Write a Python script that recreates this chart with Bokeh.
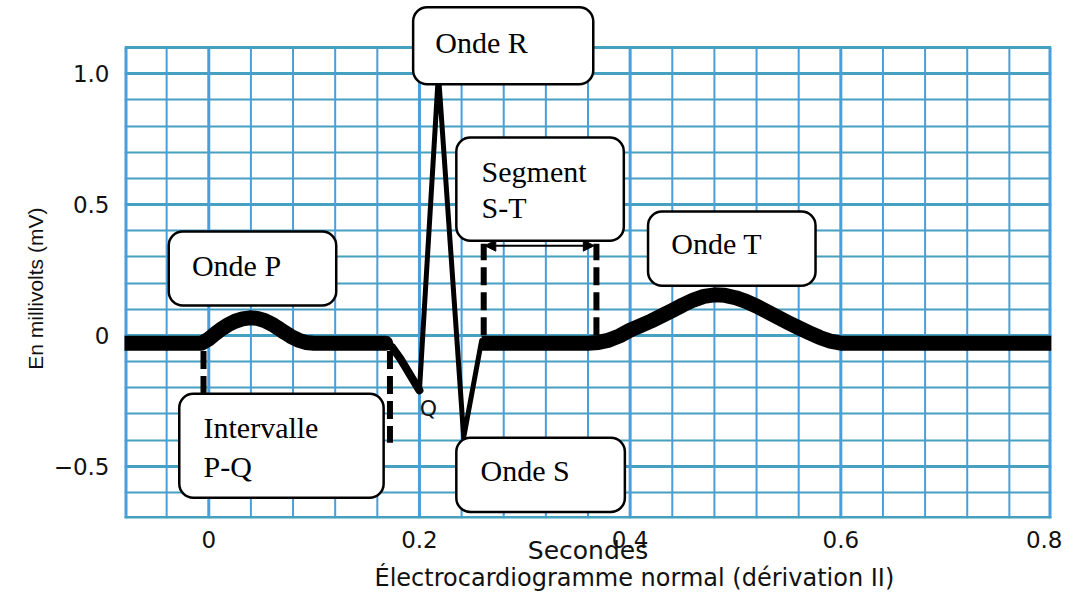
from bokeh.plotting import figure
from bokeh.models import Range1d, FixedTicker, BoxAnnotation, Label, Arrow, NormalHead, Title
from bokeh.embed import file_html
from bokeh.resources import INLINE

# ---------------- data ----------------
# ECG trace, seconds / millivolts
pq_t = [-0.08, -0.007, 0.0, 0.006, 0.012, 0.018, 0.025, 0.032, 0.039, 0.046, 0.052, 0.057, 0.062,
        0.067, 0.072, 0.078, 0.085, 0.092, 0.1, 0.168]
pq_v = [-0.03, -0.03, -0.014, 0.006, 0.024, 0.04, 0.054, 0.063, 0.067, 0.065, 0.058, 0.049, 0.038,
        0.025, 0.011, -0.004, -0.018, -0.027, -0.03, -0.03]

q_t = [0.166, 0.174, 0.182, 0.200]
q_v = [-0.03, -0.045, -0.09, -0.21]

rs_t = [0.200, 0.218, 0.242, 0.259]
rs_v = [-0.21, 1.0, -0.39, -0.02]

st_t = [0.259, 0.30, 0.36, 0.37, 0.38, 0.39, 0.40, 0.41, 0.42, 0.43, 0.44, 0.45, 0.46, 0.47, 0.48,
        0.49, 0.50, 0.51, 0.52, 0.53, 0.54, 0.55, 0.56, 0.57, 0.58, 0.59, 0.60, 0.70, 0.80]
st_v = [-0.03, -0.03, -0.03, -0.027, -0.018, -0.002, 0.02, 0.037, 0.055, 0.075, 0.095, 0.116, 0.135,
        0.149, 0.155, 0.153, 0.144, 0.13, 0.112, 0.091, 0.07, 0.049, 0.029, 0.01, -0.008, -0.022,
        -0.03, -0.03, -0.03]

# dashed markers
dash_x = [-0.005, 0.172, 0.261, 0.368]
dash_y0 = [-0.06, -0.06, 0.0, 0.0]
dash_y1 = [-0.25, -0.41, 0.35, 0.35]

# S-T arrow
arrow_x = [0.262, 0.366]
arrow_y = 0.343

# annotation boxes
box_names = ["Onde R", "Segment S-T", "Onde P", "Onde T", "Intervalle P-Q", "Onde S"]
box_left = [0.194, 0.235, -0.038, 0.417, -0.028, 0.235]
box_right = [0.365, 0.394, 0.121, 0.576, 0.166, 0.395]
box_top = [1.254, 0.756, 0.397, 0.473, -0.223, -0.391]
box_bottom = [0.960, 0.362, 0.114, 0.190, -0.621, -0.675]

text_lines = ["Onde R", "Segment", "S-T", "Onde P", "Onde T", "Intervalle", "P-Q", "Onde S"]
text_x = [0.215, 0.259, 0.259, -0.016, 0.439, -0.005, -0.005, 0.258]
text_y = [1.12, 0.626, 0.489, 0.266, 0.351, -0.353, -0.502, -0.518]

q_label = ("Q", 0.2085, -0.28)

# axes / grid
x_min, x_max = -0.08, 0.8
y_min, y_max = -0.7, 1.1
y_view_top = 1.28          # white space above the grid (box "Onde R" overhangs)
x_ticks = [0, 0.2, 0.4, 0.6, 0.8]
y_ticks = [-0.5, 0, 0.5, 1.0]
x_grid_major = [0, 0.2, 0.4, 0.6]
x_grid_minor = [-0.04, 0.04, 0.08, 0.12, 0.16, 0.24, 0.28, 0.32, 0.36, 0.44, 0.48, 0.52, 0.56, 0.64, 0.68, 0.72, 0.76]
y_grid_major = [-0.5, 0, 0.5, 1.0]
y_grid_minor = [-0.6, -0.4, -0.3, -0.2, -0.1, 0.1, 0.2, 0.3, 0.4, 0.6, 0.7, 0.8, 0.9]

title_text = "Électrocardiogramme normal (dérivation II)"
x_label = "Secondes"
y_label = "En millivolts (mV)"

# ---------------- figure ----------------
VBLUE = "#4a9edb"
HBLUE = "#46a0c0"

p = figure(width=1062, height=591, output_backend="svg", toolbar_location=None,
           x_range=Range1d(x_min, x_max), y_range=Range1d(y_min, y_view_top),
           min_border_left=124, min_border_right=11, min_border_top=0, min_border_bottom=73)
p.background_fill_color = "white"
p.border_fill_color = "white"
p.outline_line_color = None

p.xaxis.ticker = FixedTicker(ticks=x_ticks)
p.yaxis.ticker = FixedTicker(ticks=y_ticks)
p.xaxis.major_label_overrides = {0: "0"}
p.yaxis.major_label_overrides = {0: "0", -0.5: "\u22120.5", 1: "1.0"}
for ax in (p.xaxis[0], p.yaxis[0]):
    ax.axis_line_color = None
    ax.major_tick_line_color = None
    ax.minor_tick_line_color = None
    ax.major_label_text_font = "DejaVu Sans"
    ax.major_label_text_font_size = "23px"
    ax.major_label_text_color = "#111111"
p.xaxis.major_label_standoff = 6
p.yaxis.major_label_standoff = 9
p.xaxis.axis_label = x_label
p.xaxis.axis_label_text_font = "DejaVu Sans"
p.xaxis.axis_label_text_font_size = "25px"
p.xaxis.axis_label_text_font_style = "normal"
p.xaxis.axis_label_text_color = "#111111"
p.xaxis.axis_label_standoff = -15
p.yaxis.axis_label = y_label + "\u00a0" * 10
p.yaxis.axis_label_text_font = "Liberation Sans"
p.yaxis.axis_label_text_font_size = "21px"
p.yaxis.axis_label_text_font_style = "normal"
p.yaxis.axis_label_text_color = "#111111"
p.yaxis.axis_label_standoff = 4

p.add_layout(Title(text=title_text, align="left", offset=250, standoff=-12,
                   text_font="DejaVu Sans", text_font_size="24px", text_font_style="normal",
                   text_color="#111111"), "below")

# horizontal grid (spans the full width of the frame)
p.xgrid.visible = False
p.ygrid.ticker = FixedTicker(ticks=y_grid_major, minor_ticks=y_grid_minor)
p.ygrid.grid_line_color = HBLUE
p.ygrid.grid_line_width = 3
p.ygrid.minor_grid_line_color = HBLUE
p.ygrid.minor_grid_line_width = 2

# vertical grid lines, limited to the paper's height
p.segment(x0=x_grid_minor, y0=[y_min] * len(x_grid_minor), x1=x_grid_minor, y1=[y_max] * len(x_grid_minor),
          line_color=VBLUE, line_width=2)
p.segment(x0=x_grid_major, y0=[y_min] * len(x_grid_major), x1=x_grid_major, y1=[y_max] * len(x_grid_major),
          line_color=VBLUE, line_width=3)
# paper border
p.segment(x0=[x_min, x_max], y0=[y_min, y_min], x1=[x_min, x_max], y1=[y_max, y_max],
          line_color=VBLUE, line_width=6)
p.segment(x0=[x_min, x_min], y0=[y_min, y_max], x1=[x_max, x_max], y1=[y_min, y_max],
          line_color=HBLUE, line_width=[5, 3])

# ECG trace
p.line(pq_t, pq_v, line_width=15, line_color="black", line_join="round", line_cap="round")
p.line(q_t, q_v, line_width=8, line_color="black", line_join="round", line_cap="round")
p.line(rs_t, rs_v, line_width=5, line_color="black", line_join="miter", line_cap="round")
p.line(st_t, st_v, line_width=15, line_color="black", line_join="round", line_cap="butt")

# dashed verticals
p.segment(x0=dash_x, y0=dash_y0, x1=dash_x, y1=dash_y1, line_width=6,
          line_color="black", line_dash="18 7")

# double arrow S-T
p.add_layout(Arrow(x_start=arrow_x[0], y_start=arrow_y, x_end=arrow_x[1], y_end=arrow_y,
                   line_width=2, line_color="black",
                   start=NormalHead(size=11, fill_color="black", line_color="black"),
                   end=NormalHead(size=11, fill_color="black", line_color="black")))

# Q label
p.add_layout(Label(x=q_label[1], y=q_label[2], text=q_label[0], text_align="center",
                   text_baseline="middle", text_font="DejaVu Sans", text_font_size="22px",
                   text_color="#111111"))

# boxes
for l, r, t, b in zip(box_left, box_right, box_top, box_bottom):
    p.add_layout(BoxAnnotation(left=l, right=r, top=t, bottom=b, fill_color="white", fill_alpha=1,
                               line_color="black", line_alpha=1, line_width=2.5, border_radius=14))
for s, x, y in zip(text_lines, text_x, text_y):
    p.add_layout(Label(x=x, y=y, text=s, text_align="left", text_baseline="middle",
                       text_font="Liberation Serif", text_font_size="30px", text_color="black"))

open("out.html", "w").write(file_html(p, INLINE))
